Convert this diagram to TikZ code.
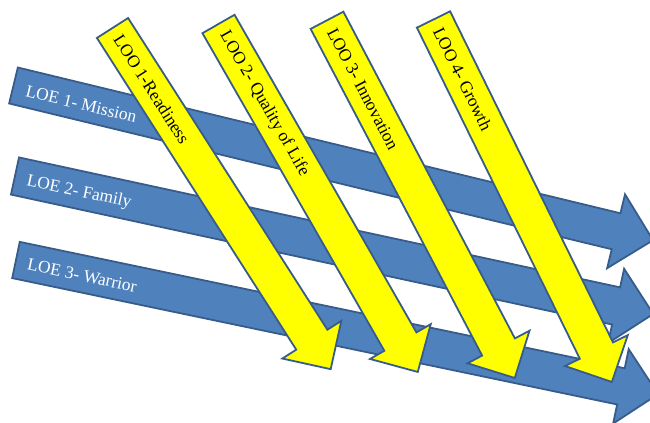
\documentclass[tikz,border=0pt]{standalone}
\usepackage{fontspec}
\setmainfont{Liberation Serif}
\usepackage{tikz}
\usetikzlibrary{positioning}

\tikzset{
  loe/.style={fill=loefill,draw=edgecol,line width=1.8bp},
  loo/.style={fill=loofill,draw=edgecol,line width=1.8bp},
  loelabel/.style={text=white,anchor=west,inner sep=0pt,font=\fontsize{17.5}{20}\selectfont},
  loolabel/.style={text=black,anchor=west,inner sep=0pt,font=\fontsize{17.5}{20}\selectfont}
}

\begin{document}
\begin{tikzpicture}[line join=miter]
%%
\definecolor{loefill}{rgb}{0.31,0.51,0.74}
\definecolor{edgecol}{rgb}{0.22,0.36,0.54}
\definecolor{loofill}{rgb}{1.0,1.0,0.0}
\useasboundingbox (0,0) rectangle (650bp,423bp);
\clip (0,0) rectangle (650bp,423bp);
%% lines of effort
\draw [loe,shift={(13.5bp,337.5bp)},rotate=-13.6] (0,18.5bp) -- (620bp,18.5bp) -- (620bp,38bp) -- (658bp,0) -- (620bp,-38bp) -- (620bp,-18.5bp) -- (0,-18.5bp) -- cycle;
\draw [loe,shift={(15bp,247bp)},rotate=-12.2] (0,19bp) -- (615bp,19bp) -- (615bp,38bp) -- (653bp,0) -- (615bp,-38bp) -- (615bp,-19bp) -- (0,-19bp) -- cycle;
\draw [loe,shift={(16bp,163bp)},rotate=-11.8] (0,18.5bp) -- (618bp,18.5bp) -- (618bp,38bp) -- (656bp,0) -- (618bp,-38bp) -- (618bp,-18.5bp) -- (0,-18.5bp) -- cycle;
\node (loe1) at (26bp,332.2bp) [loelabel,rotate=-13.6] {LOE 1- Mission};
\node (loe2) at (26.7bp,242bp) [loelabel,rotate=-12.2] {LOE 2- Family};
\node (loe3) at (27.7bp,159bp) [loelabel,rotate=-11.8] {LOE 3- Warrior};
%% lines of operation
\draw [loo,shift={(112.5bp,395bp)},rotate=-57.4] (0,18.5bp) -- (370bp,18.5bp) -- (370bp,35bp) -- (405bp,0) -- (370bp,-35bp) -- (370bp,-18.5bp) -- (0,-18.5bp) -- cycle;
\draw [loo,shift={(218.5bp,399bp)},rotate=-60.2] (0,18.5bp) -- (366bp,18.5bp) -- (366bp,35bp) -- (401bp,0) -- (366bp,-35bp) -- (366bp,-18.5bp) -- (0,-18.5bp) -- cycle;
\draw [loo,shift={(327bp,402.7bp)},rotate=-62.3] (0,18.5bp) -- (369bp,18.5bp) -- (369bp,35bp) -- (404bp,0) -- (369bp,-35bp) -- (369bp,-18.5bp) -- (0,-18.5bp) -- cycle;
\draw [loo,shift={(433.5bp,403.5bp)},rotate=-63.8] (0,18.5bp) -- (369bp,18.5bp) -- (369bp,35bp) -- (404bp,0) -- (369bp,-35bp) -- (369bp,-18.5bp) -- (0,-18.5bp) -- cycle;
\node (loo1) at (117.9bp,386.6bp) [loolabel,rotate=-57.4] {LOO 1-Readiness};
\node (loo2) at (223.5bp,390.3bp) [loolabel,rotate=-60.2] {LOO 2- Quality of Life};
\node (loo3) at (331.6bp,393.8bp) [loolabel,rotate=-62.3] {LOO 3- Innovation};
\node (loo4) at (437.9bp,394.5bp) [loolabel,rotate=-63.8] {LOO 4- Growth};
%
\end{tikzpicture}
\end{document}
